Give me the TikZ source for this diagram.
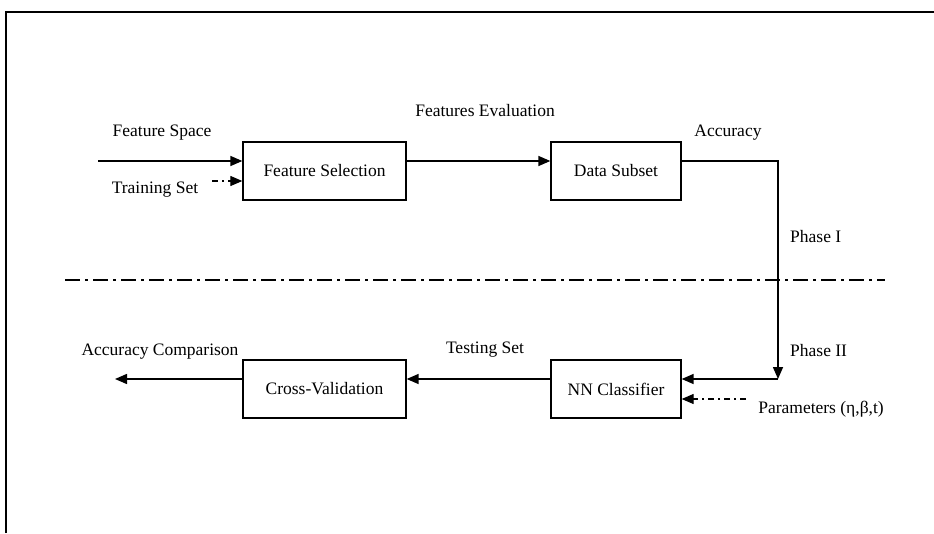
\documentclass[tikz,border=0pt]{standalone}
\usepackage{fontspec}
\setmainfont{Liberation Serif}
\usetikzlibrary{arrows.meta,positioning}

\begin{document}
\begin{tikzpicture}[x=1pt,y=1pt,>={Triangle[length=12pt,width=10pt]},node distance=291.5pt]

	\tikzstyle{block} = [rectangle, draw=black, line width=1.3pt, minimum height=58pt, font=\fontsize{17.5}{20}\selectfont]
	\tikzstyle{lbl}   = [font=\fontsize{17.5}{20}\selectfont, inner sep=0pt]
	\tikzstyle{flow}  = [->, line width=1.5pt]
	\tikzstyle{aux}   = [->, line width=1.2pt, dash pattern=on 6pt off 4pt on 2pt off 4pt]

	\useasboundingbox (0,0) rectangle (934,-533);

	% frame
	\draw [line width=2pt] (6,-533) -- (6,-12) -- (934,-12);

	% phase I
	\node [block, minimum width=163pt] (fsel) at (324.5,-171) {Feature Selection};
	\node [block, minimum width=130pt] (dsub) [right of=fsel] {Data Subset};

	% phase II
	\node [block, minimum width=130pt] (nncl) [below of=dsub, node distance=218pt] {NN Classifier};
	\node [block, minimum width=163pt] (xval) [left of=nncl] {Cross-Validation};

	\coordinate (fspin) at (98,-161);
	\coordinate (trsin) at (212,-181);
	\coordinate (turn)  at (778,-379);
	\coordinate (parin) at (746,-399);
	\coordinate (accout) at (115,-379);
	\coordinate (divl) at (65,-280);
	\coordinate (divr) at (885,-280);

	\node [lbl] (fsp)  at (162,-133) {Feature Space};
	\node [lbl] (trs)  at (155,-190) {Training Set};
	\node [lbl] (fev)  at (485,-111) {Features Evaluation};
	\node [lbl] (acc)  at (728,-133) {Accuracy};
	\node [lbl, anchor=west] (ph1) at (790,-237) {Phase I};
	\node [lbl, anchor=west] (ph2) at (790,-351) {Phase II};
	\node [lbl] (tst)  at (485,-350) {Testing Set};
	\node [lbl] (accc) at (160,-352) {Accuracy Comparison};
	\node [lbl] (par)  at (821,-409) {Parameters (η,β,t)};

	\draw [flow] (fspin) -- ([yshift=10pt]fsel.west);
	\draw [aux]  (trsin) -- ([yshift=-10pt]fsel.west);
	\draw [flow] ([yshift=10pt]fsel.east) -- ([yshift=10pt]dsub.west);
	\draw [flow] ([yshift=10pt]dsub.east) -| (turn);
	\draw [flow] (turn) -- ([yshift=10pt]nncl.east);
	\draw [aux]  (parin) -- ([yshift=-10pt]nncl.east);
	\draw [flow] ([yshift=10pt]nncl.west) -- ([yshift=10pt]xval.east);
	\draw [flow] ([yshift=10pt]xval.west) -- (accout);

	% phase divider
	\draw [line width=1.3pt, dash pattern=on 15pt off 5pt on 3pt off 5pt] (divl) -- (divr);

\end{tikzpicture}
\end{document}
